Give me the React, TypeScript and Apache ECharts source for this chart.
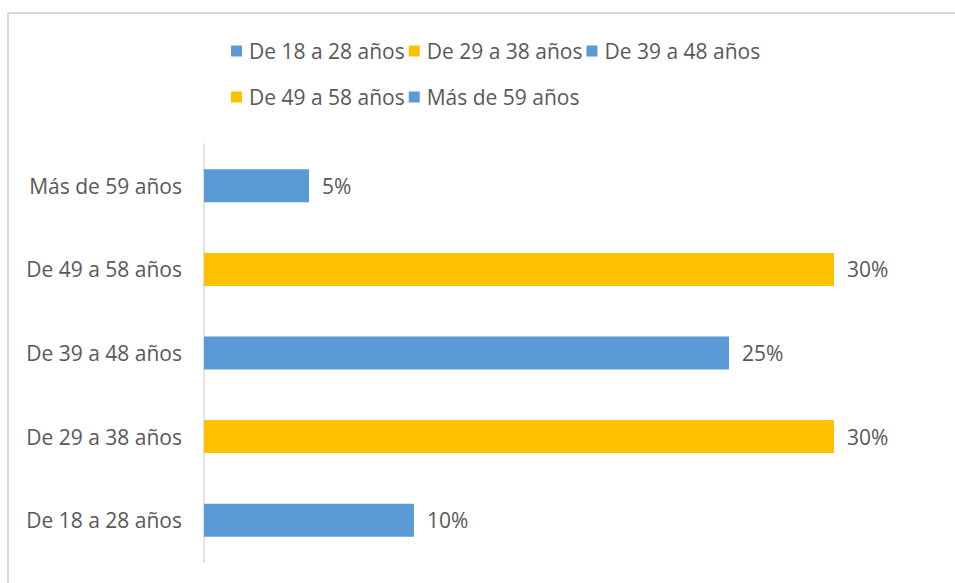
import React, { useEffect, useRef } from "react";
import * as echarts from "echarts";

const categories = [
  "De 18 a 28 años",
  "De 29 a 38 años",
  "De 39 a 48 años",
  "De 49 a 58 años",
  "Más de 59 años",
];
const values = [10, 30, 25, 30, 5];
const colors = ["#5B9BD5", "#FFC000", "#5B9BD5", "#FFC000", "#5B9BD5"];

const FONT = "'Open Sans', 'Liberation Sans', sans-serif";
const TEXT = "#595959";
const FS = 21;

export default function App() {
  const ref = useRef<HTMLDivElement>(null);
  useEffect(() => {
    if (!ref.current) return;
    const chart = echarts.init(ref.current, null, { renderer: "svg" });
    const series = categories.map((name, i) => ({
      name,
      type: "bar",
      stack: "total",
      barWidth: 33,
      itemStyle: { color: colors[i] },
      label: {
        show: true,
        position: "right",
        distance: 13,
        formatter: "{c}%",
        color: TEXT,
        fontSize: FS,
        fontFamily: FONT,
      },
      data: categories.map((_, j) => (j === i ? values[i] : null)),
    }));
    chart.setOption({
      animation: false,
      backgroundColor: "#ffffff",
      textStyle: { fontFamily: FONT },
      graphic: [
        { type: "line", shape: { x1: 8, y1: 13, x2: 955, y2: 13 }, style: { stroke: "#d9d9d9", lineWidth: 2 } },
        { type: "line", shape: { x1: 8, y1: 13, x2: 8, y2: 583 }, style: { stroke: "#d9d9d9", lineWidth: 2 } },
      ],
      legend: {
        left: 226,
        top: 25,
        width: 600,
        itemWidth: 11,
        itemHeight: 11,
        itemGap: 4,
        icon: "rect",
        data: categories.map((c, i) => ({ name: c, itemStyle: { color: colors[i] } })),
        textStyle: {
          color: TEXT,
          fontSize: FS,
          fontFamily: FONT,
          lineHeight: 42,
          padding: [0, 0, 0, 2],
        },
      },
      grid: { left: 204, right: 121, top: 144, bottom: 21, containLabel: false },
      xAxis: {
        type: "value",
        min: 0,
        max: 30,
        show: false,
      },
      yAxis: {
        type: "category",
        data: categories,
        axisLine: { show: true, lineStyle: { color: "#d9d9d9", width: 1.5 } },
        axisTick: { show: false },
        axisLabel: { color: TEXT, fontSize: FS, fontFamily: FONT, margin: 22 },
      },
      series,
    });
    return () => chart.dispose();
  }, []);
  return (
    <div
      ref={ref}
      style={{ position: "absolute", left: 0, top: 0, width: 955, height: 583 }}
    />
  );
}
